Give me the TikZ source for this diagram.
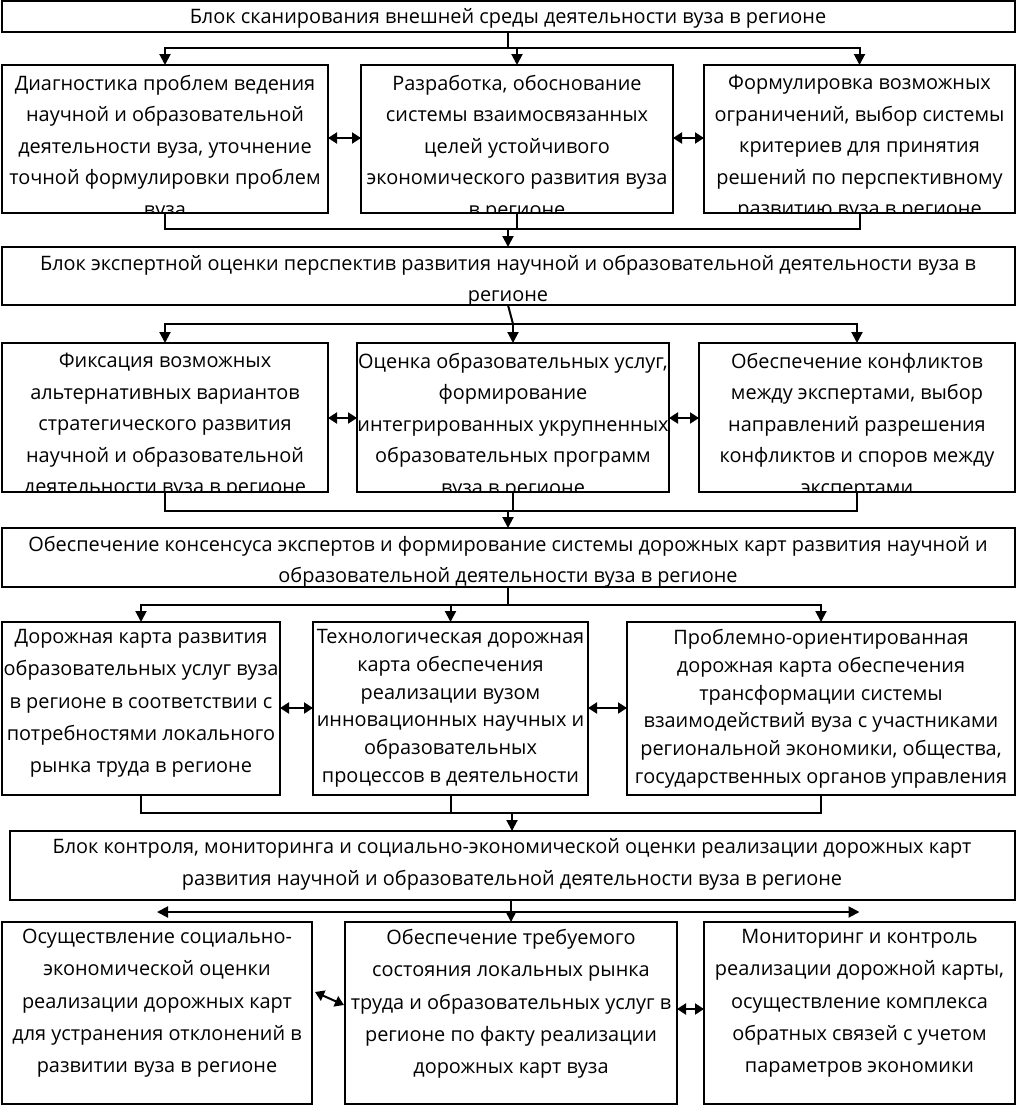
\documentclass[tikz,border=0pt]{standalone}
\usepackage{fontspec}
\setmainfont{Open Sans}
\usetikzlibrary{arrows.meta,calc}
\tikzset{
  box/.style={draw=black, line width=2.2pt, inner sep=0pt, outer sep=0pt},
  txt/.style={align=center, inner sep=0pt, anchor=north},
  lnk/.style={line width=2pt},
  arr/.style={line width=2pt, -{Triangle[length=11pt,width=11pt]}},
  darr/.style={line width=2pt, {Triangle[length=9pt,width=11pt]}-{Triangle[length=9pt,width=11pt]}},
  fA/.style={font=\fontsize{19.9}{31.5}\selectfont},
  fB/.style={font=\fontsize{19.9}{32.3}\selectfont},
  fC/.style={font=\fontsize{19.9}{27.8}\selectfont},
}
\newcommand\mkbox[5]{\node[box, minimum width={(#4-#2)*1pt}, minimum height={(#5-#3)*1pt}] (#1) at ({(#2+#4)/2},{(#3+#5)/2}) {};}
\begin{document}
\begin{tikzpicture}[x=1pt,y=-1pt]
\useasboundingbox (0,0) rectangle (1017,1106);
% boxes
\mkbox{top}{2}{1}{1015}{32}
\mkbox{r1a}{2}{65}{328}{213}
\mkbox{r1b}{361}{65}{673}{213}
\mkbox{r1c}{704}{65}{1015}{213}
\mkbox{b2}{2}{247}{1015}{305}
\mkbox{r2a}{2}{343}{328}{492}
\mkbox{r2b}{357}{343}{669}{492}
\mkbox{r2c}{699}{343}{1015}{492}
\mkbox{b3}{2}{528}{1015}{587}
\mkbox{r3a}{2}{622}{280}{795}
\mkbox{r3b}{313}{622}{588}{795}
\mkbox{r3c}{627}{622}{1015}{795}
\mkbox{b4}{10}{831}{1015}{900}
\mkbox{r4a}{2}{922}{312}{1104}
\mkbox{r4b}{345}{922}{677}{1104}
\mkbox{r4c}{704}{922}{1015}{1104}
% texts
\node[txt, fA] (ttop) at (508,8) {Блок сканирования внешней среды деятельности вуза в регионе};
\begin{scope}\clip (r1a.south west) rectangle (r1a.north east);
\node[txt, fA] (t1a) at ($(r1a.north)+(0,10)$) {Диагностика проблем ведения\\научной и образовательной\\деятельности вуза, уточнение\\точной формулировки проблем\\вуза};
\end{scope}
\begin{scope}\clip (r1b.south west) rectangle (r1b.north east);
\node[txt, fA] (t1b) at ($(r1b.north)+(0,10)$) {Разработка, обоснование\\системы взаимосвязанных\\целей устойчивого\\экономического развития вуза\\в регионе};
\end{scope}
\begin{scope}\clip (r1c.south west) rectangle (r1c.north east);
\node[txt, fA] (t1c) at ($(r1c.north)+(0,10)$) {Формулировка возможных\\ограничений, выбор системы\\критериев для принятия\\решений по перспективному\\развитию вуза в регионе};
\end{scope}
\node[txt, fA] (t2) at (508,255) {Блок экспертной оценки перспектив развития научной и образовательной деятельности вуза в\\регионе};
\begin{scope}\clip (r2a.south west) rectangle (r2a.north east);
\node[txt, fA] (t2a) at ($(r2a.north)+(0,10)$) {Фиксация возможных\\альтернативных вариантов\\стратегического развития\\научной и образовательной\\деятельности вуза в регионе};
\end{scope}
\begin{scope}\clip (r2b.south west) rectangle (r2b.north east);
\node[txt, fA] (t2b) at ($(r2b.north)+(0,10)$) {Оценка образовательных услуг,\\формирование\\интегрированных укрупненных\\образовательных программ\\вуза в регионе};
\end{scope}
\begin{scope}\clip (r2c.south west) rectangle (r2c.north east);
\node[txt, fA] (t2c) at ($(r2c.north)+(0,10)$) {Обеспечение конфликтов\\между экспертами, выбор\\направлений разрешения\\конфликтов и споров между\\экспертами};
\end{scope}
\node[txt, fA] (t3) at (508,536) {Обеспечение консенсуса экспертов и формирование системы дорожных карт развития научной и\\образовательной деятельности вуза в регионе};
\node[txt, fB] (t3a) at ($(r3a.north)+(0,7)$) {Дорожная карта развития\\образовательных услуг вуза\\в регионе в соответствии с\\потребностями локального\\рынка труда в регионе};
\node[txt, fC] (t3b) at ($(r3b.north)+(0,7)$) {Технологическая дорожная\\карта обеспечения\\реализации вузом\\инновационных научных и\\образовательных\\процессов в деятельности};
\node[txt, fC] (t3c) at ($(r3c.north)+(0,7)$) {Проблемно-ориентированная\\дорожная карта обеспечения\\трансформации системы\\взаимодействий вуза с участниками\\региональной экономики, общества,\\государственных органов управления};
\node[txt, fB] (t4) at (512,838) {Блок контроля, мониторинга и социально-экономической оценки реализации дорожных карт\\развития научной и образовательной деятельности вуза в регионе};
\node[txt, fB] (t4a) at ($(r4a.north)+(0,7)$) {Осуществление социально-\\экономической оценки\\реализации дорожных карт\\для устранения отклонений в\\развитии вуза в регионе};
\node[txt, fB] (t4b) at ($(r4b.north)+(0,7)$) {Обеспечение требуемого\\состояния локальных рынка\\труда и образовательных услуг в\\регионе по факту реализации\\дорожных карт вуза};
\node[txt, fB] (t4c) at ($(r4c.north)+(0,7)$) {Мониторинг и контроль\\реализации дорожной карты,\\осуществление комплекса\\обратных связей с учетом\\параметров экономики};
% connectors level 1
\coordinate (j1) at (508,48);
\draw[lnk] (top.south -| j1) -- (j1);
\draw[arr] (j1) -| (r1a.north);
\draw[arr] (j1) -| (r1b.north);
\draw[arr] (j1) -| (r1c.north);
\draw[darr] (r1a.east |- 0,138) -- (r1b.west |- 0,138);
\draw[darr] (r1b.east |- 0,138) -- (r1c.west |- 0,138);
\coordinate (m1) at (508,229);
\draw[lnk] (r1a.south) |- (m1);
\draw[lnk] (r1b.south) |- (m1);
\draw[lnk] (r1c.south) |- (m1);
\draw[arr] (m1) -- (b2.north -| m1);
% level 2
\coordinate (j2) at (513,324);
\draw[lnk] (b2.south -| 508,0) -- (j2);
\draw[arr] (j2) -| (r2a.north);
\draw[arr] (j2) -- (r2b.north);
\draw[arr] (j2) -| (r2c.north);
\draw[darr] (r2a.east |- 0,418) -- (r2b.west |- 0,418);
\draw[darr] (r2b.east |- 0,418) -- (r2c.west |- 0,418);
\coordinate (m2) at (508,511);
\draw[lnk] (r2a.south) |- (m2);
\draw[lnk] (r2b.south) |- (m2);
\draw[lnk] (r2c.south) |- (m2);
\draw[arr] (m2) -- (b3.north -| m2);
% level 3
\coordinate (j3) at (508,605);
\draw[lnk] (b3.south -| j3) -- (j3);
\draw[arr] (j3) -| (r3a.north);
\draw[arr] (j3) -| (r3b.north);
\draw[arr] (j3) -| (r3c.north);
\draw[darr] (r3a.east |- 0,708) -- (r3b.west |- 0,708);
\draw[darr] (r3b.east |- 0,708) -- (r3c.west |- 0,708);
\coordinate (m3) at (512,813);
\draw[lnk] (r3a.south) |- (m3);
\draw[lnk] (r3b.south) |- (m3);
\draw[lnk] (r3c.south) |- (m3);
\draw[arr] (m3) -- (b4.north -| m3);
% level 4
\coordinate (j4) at (511,912);
\draw[arr] (b4.south -| j4) -- (r4b.north -| j4);
\draw[arr] (j4) -- (j4 -| r4a.north);
\draw[arr] (j4) -- (j4 -| r4c.north);
\coordinate (d1) at (315,992);
\coordinate (d2) at (344,1005);
\draw[darr] (d1) -- (d2);
\draw[darr] (r4b.east |- 0,1009) -- (r4c.west |- 0,1009);
\end{tikzpicture}
\end{document}
